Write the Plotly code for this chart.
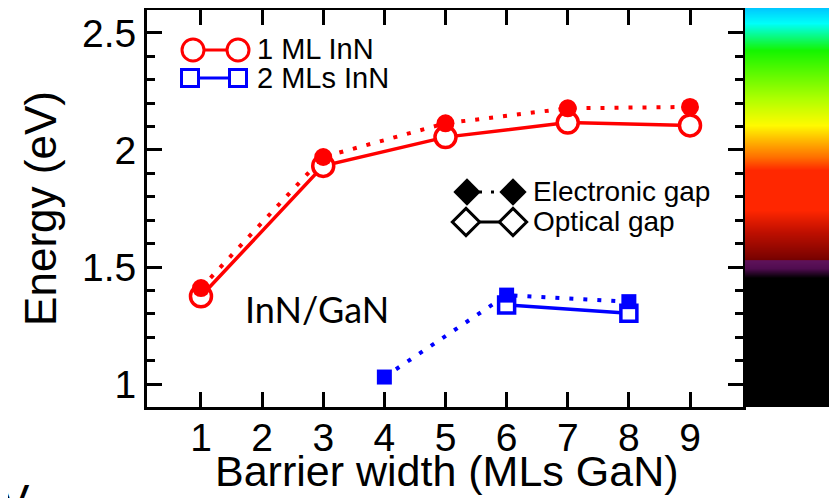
import numpy as np
import plotly.graph_objects as go

# ---------------- data ----------------
red_x = [1, 3, 5, 7, 9]
red_electronic = [1.41, 1.97, 2.114, 2.178, 2.184]
red_optical = [1.375, 1.932, 2.055, 2.117, 2.105]

blue_x_el = [4, 6, 8]
blue_electronic = [1.03, 1.38, 1.352]
blue_x_opt = [6, 8]
blue_optical = [1.338, 1.302]

x_ticks = [1, 2, 3, 4, 5, 6, 7, 8, 9]
y_ticks = [1, 1.5, 2, 2.5]
y_tick_labels = ["1", "1.5", "2", "2.5"]

# visible-spectrum colour band (energy in eV -> colour)
spectrum_energy = [0.902, 1.455, 1.495, 1.530, 1.531, 1.543, 1.650, 1.744, 1.915,
                   1.970, 2.030, 2.107, 2.220, 2.427, 2.543, 2.607]
spectrum_color = ["rgb(0,0,0)", "rgb(0,0,0)", "rgb(80,12,80)", "rgb(95,18,90)",
                  "rgb(115,0,0)", "rgb(125,3,0)", "rgb(190,15,0)", "rgb(255,38,0)",
                  "rgb(255,40,0)", "rgb(255,110,0)", "rgb(255,170,0)", "rgb(255,250,0)",
                  "rgb(175,255,0)", "rgb(20,245,0)", "rgb(0,255,250)", "rgb(0,200,255)"]

# page body has an 8px margin: figure occupies window pixels 8..837
OFF = 8
WIN_W, WIN_H = 837, 498
W, H = WIN_W - OFF, WIN_H - OFF
FONT = "Liberation Sans, Arial, Helvetica, sans-serif"
RED = "#ff0000"
BLUE = "#0000ff"

# plot area in window pixels
PL, PR, PT, PB = 147, 743, 10, 407


def fx(p):  # window px -> paper x (clamped, for domains)
    return min(max((p - OFF) / W, 0), 1)


def fy(p):
    return min(max(1 - (p - OFF) / H, 0), 1)


def fxa(p):  # unclamped, for annotations
    return (p - OFF) / W


def fya(p):
    return 1 - (p - OFF) / H


fig = go.Figure()

# ---- red series ----
fig.add_trace(go.Scatter(x=red_x, y=red_electronic, mode="lines",
                         line=dict(color=RED, width=4, dash="4px,10px"),
                         showlegend=False))
fig.add_trace(go.Scatter(x=red_x, y=red_optical, mode="lines+markers",
                         line=dict(color=RED, width=3.5),
                         marker=dict(symbol="circle", size=21, color="white",
                                     line=dict(color=RED, width=3.5)),
                         showlegend=False))
fig.add_trace(go.Scatter(x=red_x, y=red_electronic, mode="markers",
                         marker=dict(symbol="circle", size=18, color=RED),
                         showlegend=False))

# ---- blue series ----
fig.add_trace(go.Scatter(x=blue_x_el, y=blue_electronic, mode="lines",
                         line=dict(color=BLUE, width=4, dash="4px,10px"),
                         showlegend=False))
fig.add_trace(go.Scatter(x=blue_x_opt, y=blue_optical, mode="lines+markers",
                         line=dict(color=BLUE, width=3.5),
                         marker=dict(symbol="square", size=16, color="white",
                                     line=dict(color=BLUE, width=3.5)),
                         showlegend=False))
fig.add_trace(go.Scatter(x=blue_x_el, y=blue_electronic, mode="markers",
                         marker=dict(symbol="square", size=15, color=BLUE),
                         showlegend=False))

# ---- spectrum colour band ----
zmin, zmax = spectrum_energy[0], spectrum_energy[-1]
cscale = [[(e - zmin) / (zmax - zmin), c] for e, c in zip(spectrum_energy, spectrum_color)]
band_y = np.linspace(zmin, zmax, 400)
fig.add_trace(go.Heatmap(x=[0], y=band_y, z=[[v] for v in band_y],
                         colorscale=cscale, zmin=zmin, zmax=zmax, showscale=False,
                         hoverinfo="skip", xaxis="x2", yaxis="y2"))


# ---- custom legend glyphs (pixel overlay axis, window coords) ----
def glyph(x0, x1, y, color, dash, symbol, size, fill, lw=3):
    fig.add_trace(go.Scatter(x=[x0, x1], y=[y, y], mode="lines+markers",
                             line=dict(color=color, width=lw, dash=dash),
                             marker=dict(symbol=symbol, size=size, color=fill,
                                         line=dict(color=color, width=3 if fill == "white" else 0)),
                             xaxis="x3", yaxis="y3", showlegend=False,
                             hoverinfo="skip", cliponaxis=False))


glyph(193, 238, 50, RED, "solid", "circle", 22, "white")
glyph(190, 238, 78, BLUE, "solid", "square", 17, "white")
glyph(467, 513, 192, "black", "3px,9px", "diamond", 21, "black")
glyph(466, 513, 222, "black", "solid", "diamond", 21, "white")

annotations = [
    dict(text="1 ML InN", x=fxa(255), y=fya(49), xanchor="left", yanchor="middle",
         font=dict(family=FONT, size=29, color="black")),
    dict(text="2 MLs InN", x=fxa(255), y=fya(78), xanchor="left", yanchor="middle",
         font=dict(family=FONT, size=29, color="black")),
    dict(text="Electronic gap", x=fxa(531), y=fya(191), xanchor="left", yanchor="middle",
         font=dict(family=FONT, size=28, color="black")),
    dict(text="Optical gap", x=fxa(531), y=fya(221), xanchor="left", yanchor="middle",
         font=dict(family=FONT, size=28, color="black")),
    dict(text="InN/GaN", x=fxa(317), y=fya(309), xanchor="center", yanchor="middle",
         font=dict(family="Lato, Open Sans, sans-serif", size=36, color="black")),
    dict(text="Barrier width (MLs GaN)", x=fxa(447), y=fya(471), xanchor="center",
         yanchor="middle", font=dict(family=FONT, size=43, color="black")),
    dict(text="V", x=fxa(-2), y=fya(474), xanchor="left", yanchor="top",
         font=dict(family=FONT, size=44, color="black")),
]
for a in annotations:
    a.update(xref="paper", yref="paper", showarrow=False)

axis_common = dict(showline=True, linecolor="black", linewidth=3, mirror="ticks",
                   ticks="inside", tickcolor="black", tickwidth=3, ticklen=15,
                   showgrid=False, zeroline=False,
                   tickfont=dict(family=FONT, size=39, color="black"))

fig.update_layout(
    width=W, height=H,
    margin=dict(l=0, r=0, t=0, b=0),
    paper_bgcolor="white", plot_bgcolor="rgba(0,0,0,0)",
    showlegend=False,
    xaxis=dict(axis_common, domain=[fx(PL), fx(PR)], range=[0.117, 9.867],
               tickmode="array", tickvals=x_ticks,
               ticklabelstandoff=-6),
    yaxis=dict(axis_common, domain=[fy(PB), fy(PT)], range=[0.902, 2.598],
               tickmode="array", tickvals=y_ticks, ticktext=y_tick_labels,
               ticklabelstandoff=0,
               minor=dict(dtick=0.1, tick0=0, ticks="inside", ticklen=8,
                          tickwidth=2.5, tickcolor="black"),
               title=dict(text="Energy (eV)", standoff=12,
                          font=dict(family=FONT, size=44, color="black"))),
    xaxis2=dict(domain=[fx(745), fx(836)], visible=False, anchor="y2"),
    yaxis2=dict(domain=[fy(407), fy(8)], range=[zmin, zmax], visible=False,
                anchor="x2"),
    xaxis3=dict(domain=[0, 1], range=[OFF, WIN_W], visible=False, anchor="y3"),
    yaxis3=dict(domain=[0, 1], range=[WIN_H, OFF], visible=False, anchor="x3"),
    annotations=annotations,
)

fig.write_html("out.html")
